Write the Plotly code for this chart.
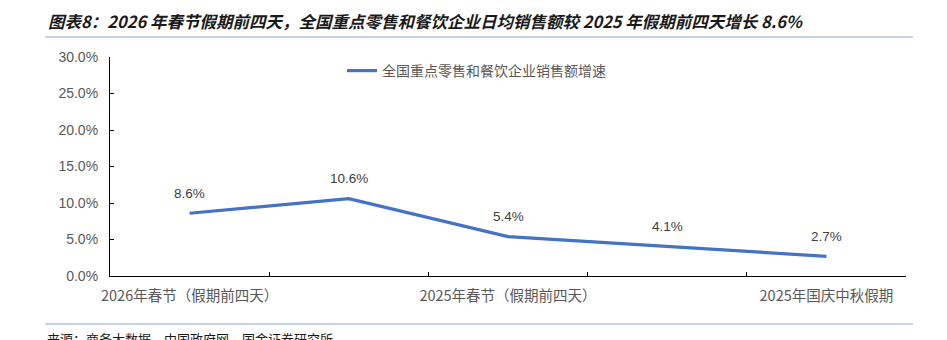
import plotly.graph_objects as go

# ---- data ----
categories = [
    "2026年春节（假期前四天）",
    "2025年国庆中秋假期前",
    "2025年春节（假期前四天）",
    "2025年春节前",
    "2025年国庆中秋假期",
]
shown_tick_index = [0, 2, 4]
growth = [8.6, 10.6, 5.4, 4.1, 2.7]
series_name = "全国重点零售和餐饮企业销售额增速"
y_ticks = [0, 5, 10, 15, 20, 25, 30]
title_text = "图表8：2026 年春节假期前四天，全国重点零售和餐饮企业日均销售额较 2025 年假期前四天增长 8.6%"
source_text = "来源：商务大数据，中国政府网，国金证券研究所"

W, H = 947, 340
L, R, T, B = 110, 41, 57, 64
pw, ph = W - L - R, H - T - B

def px_x(p):
    return (p - L) / pw

def px_y(p):
    return (H - B - p) / ph

xs = list(range(len(categories)))

fig = go.Figure()
fig.add_trace(go.Scatter(
    x=xs, y=growth, mode="lines", name=series_name,
    line=dict(color="#4472C4", width=3.2),
    hoverinfo="skip",
))

for x, v in zip(xs, growth):
    fig.add_annotation(x=x, y=v, text=f"{v}%", showarrow=False, yshift=20,
                       font=dict(family="Liberation Sans, Arial", size=13.5, color="#404040"))

cjk = "Noto Sans CJK SC"
fig.update_layout(
    width=W, height=H,
    margin=dict(l=L, r=R, t=T, b=B),
    paper_bgcolor="white", plot_bgcolor="white",
    showlegend=True,
    legend=dict(orientation="h", x=px_x(342), y=px_y(71), xanchor="left", yanchor="middle",
                font=dict(family=cjk, size=14, color="#595959"), bgcolor="rgba(0,0,0,0)",
                itemwidth=30),
    title=dict(text=title_text, x=48 / W, y=1 - 22 / H, xanchor="left", yanchor="middle",
               xref="container", yref="container",
               font=dict(family=cjk, size=16.5, color="#1a1a1a", weight="bold", style="italic")),
    xaxis=dict(
        range=[-0.5, len(categories) - 0.5], showgrid=False, zeroline=False,
        showline=True, linecolor="#000000", linewidth=1.2,
        tickmode="array", tickvals=[xs[i] for i in shown_tick_index],
        ticktext=[categories[i] for i in shown_tick_index],
        ticks="inside", ticklen=0,
        tickfont=dict(family=cjk, size=14.5, color="#595959"),
        ticklabelstandoff=6,
        minor=dict(tickmode="array", tickvals=[i - 0.5 for i in range(len(categories) + 1)],
                   ticks="inside", ticklen=4, tickcolor="#000000", tickwidth=1),
    ),
    yaxis=dict(
        range=[0, 30], tickvals=y_ticks, ticktext=[f"{v:.1f}%" for v in y_ticks],
        showgrid=False, zeroline=False, showline=True, linecolor="#000000", linewidth=1.2,
        ticks="inside", ticklen=4, tickcolor="#000000",
        tickfont=dict(family="Liberation Sans, Arial", size=14, color="#595959"),
        ticklabelstandoff=8,
    ),
)

for yy in (37, 324):
    fig.add_shape(type="line", xref="paper", yref="paper",
                  x0=px_x(45), x1=px_x(913), y0=px_y(yy), y1=px_y(yy),
                  line=dict(color="#B4C7D6", width=1.5))

fig.add_annotation(text=source_text, xref="paper", yref="paper", x=px_x(45), y=px_y(338),
                   xanchor="left", yanchor="middle", showarrow=False,
                   font=dict(family=cjk, size=13, color="#1a1a1a"))

fig.write_html("out.html")
